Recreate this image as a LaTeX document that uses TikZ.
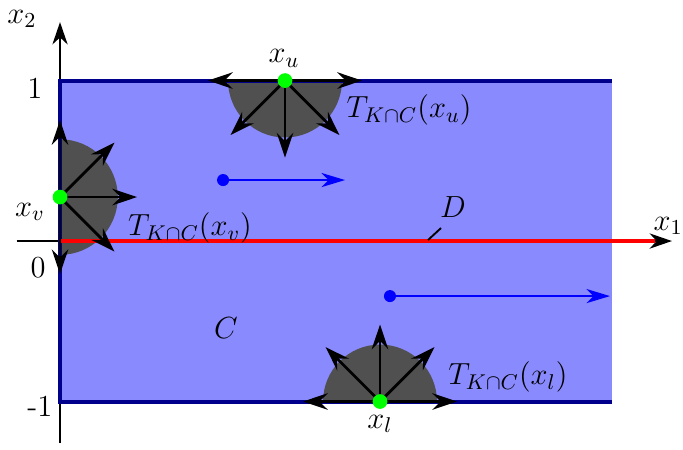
\RequirePackage{fix-cm}
\documentclass[tikz,border=0pt]{standalone}
\usepackage{amsmath,amssymb}
\usetikzlibrary{arrows.meta}
\definecolor{regblue}{RGB}{138,138,255}
\definecolor{bndblue}{RGB}{0,0,140}
\definecolor{conegray}{RGB}{80,80,80}
\tikzset{
  axis/.style={thick,-{Stealth[length=9.5pt,width=6.5pt,inset=3pt]}},
  bnd/.style={line width=1.7pt,bndblue},
  dset/.style={line width=2pt,red},
  flow/.style={line width=1pt,blue,-{Stealth[length=10pt,width=6pt,inset=3pt]}},
  tcone/.style={fill=conegray},
  tarr/.style={line width=1.2pt,-{Stealth[length=10.5pt,width=7pt,inset=3.5pt]}},
  bpt/.style={circle,fill=green,inner sep=0pt,minimum size=2.2mm},
  fpt/.style={circle,fill=blue,inner sep=0pt,minimum size=1.8mm},
  every node/.style={font=\fontsize{13}{15}\selectfont}
}

\begin{document}
\begin{tikzpicture}[x=2.4cm,y=2.4cm]
      \useasboundingbox (-0.374,-1.296) rectangle (3.882,1.502);
      % region C and its corners
      \coordinate (cll) at (0,-1); \coordinate (cul) at (0,1);
      \coordinate (clr) at (3.44,-1); \coordinate (cur) at (3.44,1);
      \fill[regblue] (cll) rectangle (cur);
      % boundary points
      \coordinate (xu) at (1.402,1); \coordinate (xv) at (0,0.274); \coordinate (xl) at (1.994,-1);
      \fill[tcone] (xu) ++(-0.355,0) arc[start angle=180,end angle=360,radius=0.355] -- cycle;
      \fill[tcone] (xv) ++(0,-0.36) arc[start angle=-90,end angle=90,radius=0.36] -- cycle;
      \fill[tcone] (xl) ++(0.355,0) arc[start angle=0,end angle=180,radius=0.355] -- cycle;
      % axes
      \coordinate (a1s) at (-0.27,0); \coordinate (a1e) at (3.813,0);
      \coordinate (a2s) at (0,-1.259); \coordinate (a2e) at (0,1.364);
      \draw[axis] (a1s) -- (a1e); \draw[axis] (a2s) -- (a2e);
      \draw[bnd] (cur) -- (cul) -- (cll) -- (clr);
      % the set D
      \coordinate (o) at (0,0); \coordinate (de) at (3.71,0);
      \draw[dset] (o) -- (de);
      \coordinate (dp) at (2.293,0.006); \coordinate (dq) at (2.374,0.081);
      \draw[thick] (dp) -- (dq);
      % flow
      \node[fpt] (f1) at (1.016,0.38) {}; \coordinate (f1e) at (1.776,0.38);
      \node[fpt] (f2) at (2.056,-0.343) {}; \coordinate (f2e) at (3.427,-0.343);
      \draw[flow] (f1.center) -- (f1e); \draw[flow] (f2.center) -- (f2e);
      % tangent cones
      \foreach \a in {180,-135,-90,-45,0} \draw[tarr] (xu) -- ++(\a:0.48);
      \foreach \a in {90,45,0,-45,-90} \draw[tarr] (xv) -- ++(\a:0.48);
      \foreach \a in {0,45,90,135,180} \draw[tarr] (xl) -- ++(\a:0.48);
      \node[bpt] (pu) at (xu) {}; \node[bpt] (pv) at (xv) {}; \node[bpt] (pl) at (xl) {};
      % labels
      \node (lx1) at (3.79,0.093) {$x_1$}; \node (lx2) at (-0.237,1.385) {$x_2$};
      \node (ly1) at (-0.156,0.953) {1}; \node (ly0) at (-0.137,-0.168) {0}; \node (ym1) at (-0.125,-1.03) {-1};
      \node (ld) at (2.449,0.212) {$D$}; \node (lc) at (1.034,-0.542) {$C$};
      \node (lxu) at (1.396,1.137) {$x_u$}; \node (lxv) at (-0.187,0.181) {$x_v$}; \node (lxl) at (1.994,-1.14) {$x_l$};
      \node (tu) at (2.175,0.816) {$T_{K\cap C}(x_u)$};
      \node (tv) at (0.81,0.081) {$T_{K\cap C}(x_v)$};
      \node (tl) at (2.791,-0.847) {$T_{K\cap C}(x_l)$};
    \end{tikzpicture}
\end{document}
